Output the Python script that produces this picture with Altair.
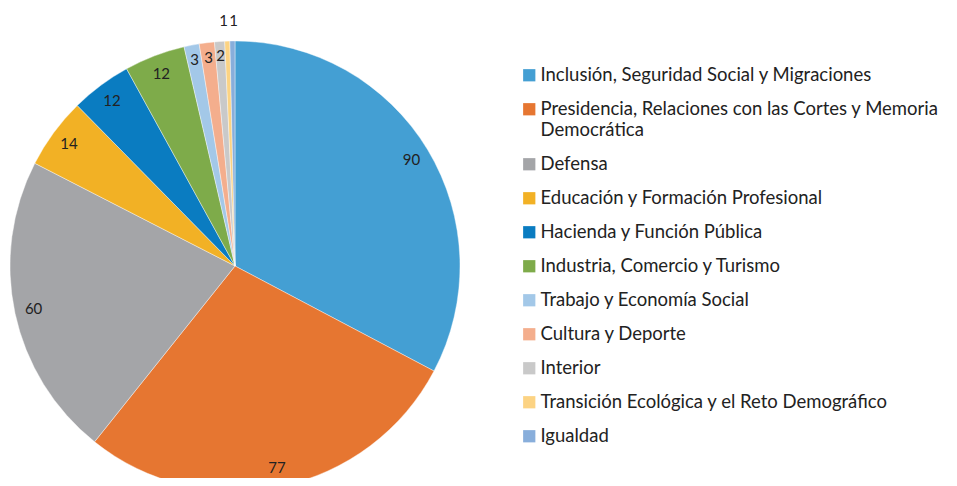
import altair as alt
import pandas as pd

categories = [
    "Inclusión, Seguridad Social y Migraciones",
    "Presidencia, Relaciones con las Cortes y Memoria|Democrática",
    "Defensa",
    "Educación y Formación Profesional",
    "Hacienda y Función Pública",
    "Industria, Comercio y Turismo",
    "Trabajo y Economía Social",
    "Cultura y Deporte",
    "Interior",
    "Transición Ecológica y el Reto Demográfico",
    "Igualdad",
]
values = [90, 77, 60, 14, 12, 12, 3, 3, 2, 1, 1]
colors = ["#449fd3", "#e67631", "#a4a5a8", "#f2b125", "#0a7cc1", "#7eab4a",
          "#a3c8e8", "#f4ae8d", "#c9c9c9", "#fcd383", "#88aedb"]

df = pd.DataFrame({"cat": categories, "val": values})

FONT = "Lato"

base = alt.Chart(df).transform_window(idx="row_number()")

pie = base.mark_arc(outerRadius=225, stroke="white", strokeWidth=0.4).encode(
    x=alt.value(227),
    y=alt.value(258),
    theta=alt.Theta("val:Q", stack=True),
    order=alt.Order("idx:Q"),
    color=alt.Color(
        "cat:N",
        scale=alt.Scale(domain=categories, range=colors),
        legend=alt.Legend(
            title=None,
            orient="none",
            legendX=512,
            legendY=58,
            symbolType="square",
            symbolSize=150,
            symbolStrokeWidth=0,
            labelFont=FONT,
            labelFontSize=18.5,
            labelColor="#222222",
            labelLimit=500,
            rowPadding=15,
            labelOffset=2,
            labelExpr="split(datum.label, '|')",
        ),
    ),
)

labels = (
    base.transform_joinaggregate(total="sum(val)")
    .transform_window(cum="sum(val)", sort=[alt.SortField("idx")])
    .transform_calculate(
        mid="(datum.cum - datum.val / 2) / datum.total * 2 * PI",
        spread="datum.val <= 1 ? (datum.cum < datum.total ? -0.012 : 0.006) : 0",
        ang="datum.mid + datum.spread",
        r="datum.val <= 1 ? 245 : (datum.val <= 3 ? 210 : 206)",
    )
    .mark_text(font=FONT, fontSize=15, color="#222222")
    .encode(
        x=alt.value(227),
        y=alt.value(258),
        theta=alt.Theta("ang:Q", scale=None, stack=None),
        radius=alt.Radius("r:Q", scale=None, stack=None),
        text=alt.Text("val:Q"),
    )
)

chart = (
    alt.layer(pie, labels)
    .properties(width=941, height=470, padding=0,
                autosize=alt.AutoSizeParams(type="none"))
    .configure_view(stroke=None)
)

chart.save("out.html", embed_options={"renderer": "svg", "actions": False})
